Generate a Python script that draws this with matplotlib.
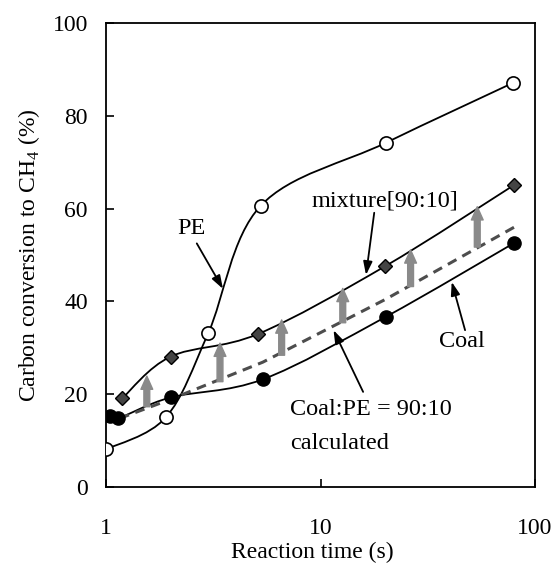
import numpy as np
import matplotlib
matplotlib.use('Agg')
import matplotlib.pyplot as plt
from matplotlib.path import Path
from matplotlib.patches import PathPatch
from matplotlib.ticker import NullLocator

plt.rcParams['font.family'] = ['Liberation Serif', 'DejaVu Serif']
plt.rcParams['mathtext.fontset'] = 'custom'
plt.rcParams['mathtext.rm'] = 'Liberation Serif'

# data (time in s, conversion in %)
pe_t = [1.0, 1.9, 3.0, 5.26, 20.2, 79.0]
pe_y = [8.1, 15.0, 33.2, 60.6, 74.2, 87.1]
coal_t = [1.04, 1.14, 2.0, 5.38, 20.2, 80.0]
coal_y = [15.3, 14.8, 19.3, 23.2, 36.7, 52.6]
mix_t = [1.19, 2.0, 5.13, 20.05, 80.0]
mix_y = [19.1, 28.1, 33.0, 47.6, 65.1]
calc_t = [1.16, 2.0, 5.38, 20.2, 80.0]
calc_y = [14.8, 18.9, 26.9, 40.5, 56.0]

# gray arrows: calculated -> mixture
arr_t = [1.55, 3.4, 6.59, 12.7, 26.3, 53.8]
arr_lo = [17.3, 22.7, 28.4, 35.4, 43.2, 51.7]
arr_hi = [23.9, 31.0, 36.0, 42.8, 51.1, 60.4]


def smooth_path(t, y):
    # excel-like smoothed line: bezier through the points in (log t, y)
    p = np.column_stack([np.log10(t), y])
    n = len(p)
    verts = [p[0]]
    codes = [Path.MOVETO]
    for i in range(n - 1):
        p0 = p[i - 1] if i > 0 else p[i]
        p3 = p[i + 2] if i + 2 < n else p[i + 1]
        c1 = p[i] + (p[i + 1] - p0) / 6
        c2 = p[i + 1] - (p3 - p[i]) / 6
        verts += [c1, c2, p[i + 1]]
        codes += [Path.CURVE4] * 3
    verts = np.array(verts)
    verts[:, 0] = 10 ** verts[:, 0]
    return Path(verts, codes)


fig = plt.figure(figsize=(5.59, 5.69), dpi=100)
ax = fig.add_axes([0.1896, 0.1441, 0.7675, 0.8155])
ax.set_xscale('log')

for t, y in [(pe_t, pe_y), (coal_t, coal_y), (mix_t, mix_y)]:
    ax.add_patch(PathPatch(smooth_path(t, y), fill=False, edgecolor='black',
                           lw=1.3, transform=ax.transData, zorder=2))

ax.plot(calc_t, calc_y, color='#4d4d4d', lw=2.2, dashes=(3.2, 2.2), zorder=2)

for t, lo, hi in zip(arr_t, arr_lo, arr_hi):
    ax.annotate('', xy=(t, hi), xytext=(t, lo),
                arrowprops=dict(arrowstyle='simple,head_length=0.95,head_width=0.85,tail_width=0.42',
                                color='#8a8a8a', shrinkA=0, shrinkB=0, mutation_scale=10),
                zorder=3)

ax.plot(pe_t, pe_y, 'o', ms=9.5, mfc='white', mec='black', mew=1.2, zorder=4)
ax.plot(coal_t, coal_y, 'o', ms=9.5, mfc='black', mec='black', zorder=4)
ax.plot(mix_t, mix_y, 'D', ms=7.5, mfc='#444444', mec='black', mew=1.0, zorder=4)

# labels with pointer arrows
fs = 17.5
ptr = dict(arrowstyle='-|>,head_length=0.5,head_width=0.17', color='black',
           lw=1.3, shrinkA=0, shrinkB=0, mutation_scale=16)
ax.text(2.51, 55.8, 'PE', fontsize=fs, ha='center', va='center')
ax.annotate('', xy=(3.51, 42.7), xytext=(2.65, 52.5), arrowprops=ptr)
ax.text(20.0, 61.6, 'mixture[90:10]', fontsize=fs, ha='center', va='center')
ax.annotate('', xy=(16.3, 45.7), xytext=(17.8, 59.1), arrowprops=ptr)
ax.text(45.7, 31.4, 'Coal', fontsize=fs, ha='center', va='center')
ax.annotate('', xy=(40.9, 44.2), xytext=(47.2, 33.8), arrowprops=ptr)
ax.text(7.21, 16.6, 'Coal:PE = 90:10', fontsize=fs, ha='left', va='center')
ax.text(7.21, 9.3, 'calculated', fontsize=fs, ha='left', va='center')
ax.annotate('', xy=(11.5, 33.8), xytext=(15.8, 20.5), arrowprops=ptr)

ax.set_xlim(1, 100)
ax.set_ylim(0, 100)
ax.set_xticks([1, 10, 100])
ax.set_xticklabels(['1', '10', '100'])
ax.xaxis.set_minor_locator(NullLocator())
ax.set_yticks(range(0, 101, 20))
ax.tick_params(direction='in', length=6, width=1.2, labelsize=17)
ax.tick_params(axis='x', pad=22)
ax.tick_params(axis='y', pad=13)
for s in ax.spines.values():
    s.set_linewidth(1.3)

ax.set_xlabel('Reaction time (s)', fontsize=17)
ax.set_ylabel('Carbon conversion to CH$_{\\mathregular{4}}$ (%)', fontsize=17)
ax.xaxis.set_label_coords(0.48, -0.118)
ax.yaxis.set_label_coords(-0.15, 0.5)

fig.savefig('out.png', dpi=100)
